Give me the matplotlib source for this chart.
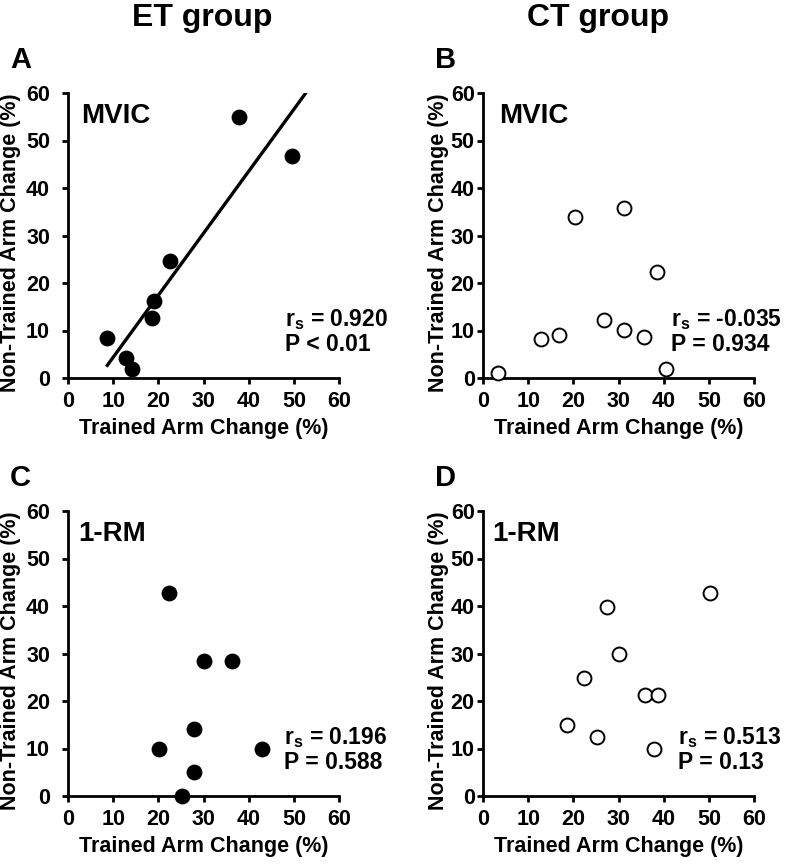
"""
Trained vs non-trained arm change, ET and CT groups
"""
import numpy as np
import matplotlib.pyplot as plt

plt.rcParams["font.family"] = ["Liberation Sans", "DejaVu Sans"]
plt.rcParams["font.weight"] = "bold"
plt.rcParams["mathtext.fontset"] = "custom"
plt.rcParams["mathtext.rm"] = "Liberation Sans:bold"
plt.rcParams["mathtext.it"] = "Liberation Sans:bold"
plt.rcParams["mathtext.bf"] = "Liberation Sans:bold"

# Panel A: ET group, MVIC
et_mvic_x = [8.7, 12.9, 14.2, 18.5, 19.0, 22.5, 37.9, 49.6]
et_mvic_y = [8.4, 4.3, 1.8, 12.7, 16.2, 24.7, 54.9, 46.7]
# Panel B: CT group, MVIC
ct_mvic_x = [3.3, 12.8, 16.9, 20.3, 26.7, 31.2, 31.2, 35.6, 38.5, 40.6]
ct_mvic_y = [1.1, 8.3, 9.1, 33.9, 12.2, 35.7, 10.1, 8.6, 22.4, 1.8]
# Panel C: ET group, 1-RM
et_rm_x = [22.4, 30.1, 36.4, 27.9, 20.2, 43.0, 27.9, 25.2]
et_rm_y = [42.7, 28.4, 28.4, 14.2, 9.9, 9.9, 5.1, 0.0]
# Panel D: CT group, 1-RM
ct_rm_x = [18.5, 22.4, 25.2, 27.5, 30.1, 35.9, 38.8, 37.8, 50.3]
ct_rm_y = [14.9, 24.9, 12.5, 39.8, 29.9, 21.3, 21.3, 9.8, 42.7]

ticks = [0, 10, 20, 30, 40, 50, 60]

fig = plt.figure(figsize=(7.87, 8.64), dpi=100)

W, H = 787, 864


def make_axes(left, right, top, bottom):
    return fig.add_axes([left / W, 1 - bottom / H, (right - left) / W, (bottom - top) / H])


# axes, x, y, filled, label, label x, r_s, P, stats x, letter, letter px, ytick pad, ylabel x
panels = [
    (make_axes(68, 339, 93, 378), et_mvic_x, et_mvic_y, True, "MVIC", 3.0,
     "0.920", "P < 0.01", 48.0, "A", 10, 8.5, -0.173),
    (make_axes(483, 754, 93, 378), ct_mvic_x, ct_mvic_y, False, "MVIC", 3.5,
     "-0.035", "P = 0.934", 41.7, "B", 435, 1.5, -0.127),
    (make_axes(68, 339, 511, 796), et_rm_x, et_rm_y, True, "1-RM", 2.3,
     "0.196", "P = 0.588", 47.9, "C", 10, 8.5, -0.173),
    (make_axes(483, 754, 511, 796), ct_rm_x, ct_rm_y, False, "1-RM", 2.1,
     "0.513", "P = 0.13", 43.1, "D", 435, 1.5, -0.127),
]

for (ax, xs, ys, filled, name, name_x, rs, pval, stat_x,
     letter, letter_px, ypad, ylab_x) in panels:
    ax.scatter(xs, ys, s=100, facecolor="black" if filled else "white",
               edgecolor="black", linewidth=1.4, zorder=3, clip_on=False)
    ax.set_xlim(0, 60)
    ax.set_ylim(0, 60)
    ax.set_xticks(ticks)
    ax.set_yticks(ticks)
    ax.spines["top"].set_visible(False)
    ax.spines["right"].set_visible(False)
    for s in ("left", "bottom"):
        ax.spines[s].set_linewidth(2)
    ax.tick_params(width=2, length=4.5, labelsize=15.5, direction="out")
    ax.tick_params(axis="x", pad=5)
    ax.tick_params(axis="y", pad=ypad)
    ax.set_xlabel("Trained Arm Change (%)", fontsize=15.5, fontweight="bold", labelpad=4)
    ax.set_ylabel("Non-Trained Arm Change (%)", fontsize=15.5, fontweight="bold")
    ax.yaxis.set_label_coords(ylab_x, 0.475)
    ax.text(name_x, 53.7, name, fontsize=20, fontweight="bold", va="baseline", ha="left")
    ax.text(stat_x, 11.0, r"r$_s$ = " + rs, fontsize=16.5, fontweight="bold", va="baseline", ha="left")
    ax.text(stat_x, 5.7, pval, fontsize=16.5, fontweight="bold", va="baseline", ha="left")
    pos = ax.get_position()
    fig.text(letter_px / W, pos.y1 + 25 / H, letter, fontsize=21, fontweight="bold",
             va="baseline", ha="left")

# regression line for panel A
ax_a = panels[0][0]
slope, icept = np.polyfit(et_mvic_x, et_mvic_y, 1)
xl = np.array([min(et_mvic_x), (60 - icept) / slope])
ax_a.plot(xl, slope * xl + icept, color="black", linewidth=2.4, zorder=2)

fig.text(202 / W, 1 - 26 / H, "ET group", fontsize=23, fontweight="bold", ha="center", va="baseline")
fig.text(598 / W, 1 - 26 / H, "CT group", fontsize=23, fontweight="bold", ha="center", va="baseline")

fig.savefig("out.png", dpi=100)
